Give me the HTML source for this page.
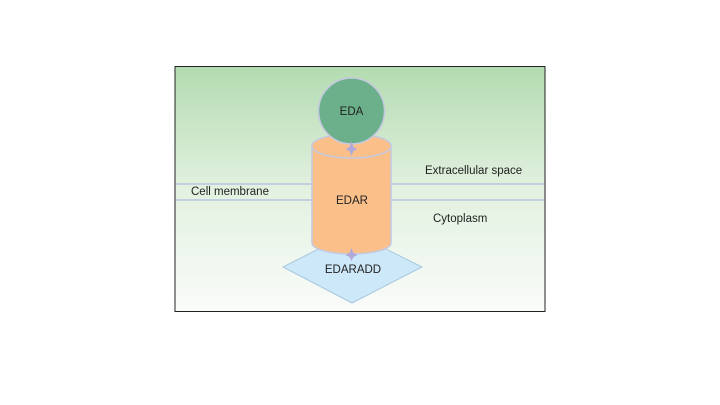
<!DOCTYPE html>
<html><head><style>
body{margin:0;background:#fff;width:720px;height:405px;overflow:hidden}
svg{position:absolute;left:0;top:0}
text{font-family:"Liberation Sans",sans-serif;font-size:11.5px;fill:#222}
</style></head><body>
<svg width="720" height="405">
<defs><linearGradient id="g" x1="0" y1="0" x2="0" y2="1">
<stop offset="0" stop-color="#b3dbb0"/><stop offset="0.5" stop-color="#e2f1e0"/><stop offset="1" stop-color="#fafcfa"/></linearGradient></defs>
<rect x="175" y="66.5" width="370" height="245" fill="url(#g)" stroke="#222" stroke-width="1"/>
<line x1="176" y1="184" x2="544" y2="184" stroke="#b8c4e0" stroke-width="1.5"/>
<line x1="176" y1="200" x2="544" y2="200" stroke="#b8c4e0" stroke-width="1.5"/>
<polygon points="352,232 422,267 352,303 283,267" fill="#cde8f8" stroke="#a8c8e0" stroke-width="1"/>
<path d="M312,146 L312,243 A39.5,11 0 0 0 391,243 L391,146 Z" fill="#fbc08a" stroke="#c4c8e0" stroke-width="1.5"/>
<ellipse cx="351.5" cy="146" rx="39.5" ry="12" fill="#fbc08a" stroke="#c4c8e0" stroke-width="1.5"/>
<circle cx="351.5" cy="111" r="33" fill="#6bb08a" stroke="#c4c8e0" stroke-width="1.5"/>
<path d="M351.5,141 l2,6 l4,2 l-4,2 l-2,5 l-2,-5 l-4,-2 l4,-2z" fill="#b0a8d8"/>
<path d="M351.5,248 l2,5 l4,2 l-4,2 l-2,4 l-2,-4 l-4,-2 l4,-2z" fill="#b0a8d8"/>
<text x="351.5" y="115" text-anchor="middle">EDA</text>
<text x="352" y="204" text-anchor="middle">EDAR</text>
<text x="353" y="273" text-anchor="middle">EDARADD</text>
<text x="425" y="174">Extracellular space</text>
<text x="433" y="222">Cytoplasm</text>
<text x="191" y="195">Cell membrane</text>
</svg>
</body></html>
